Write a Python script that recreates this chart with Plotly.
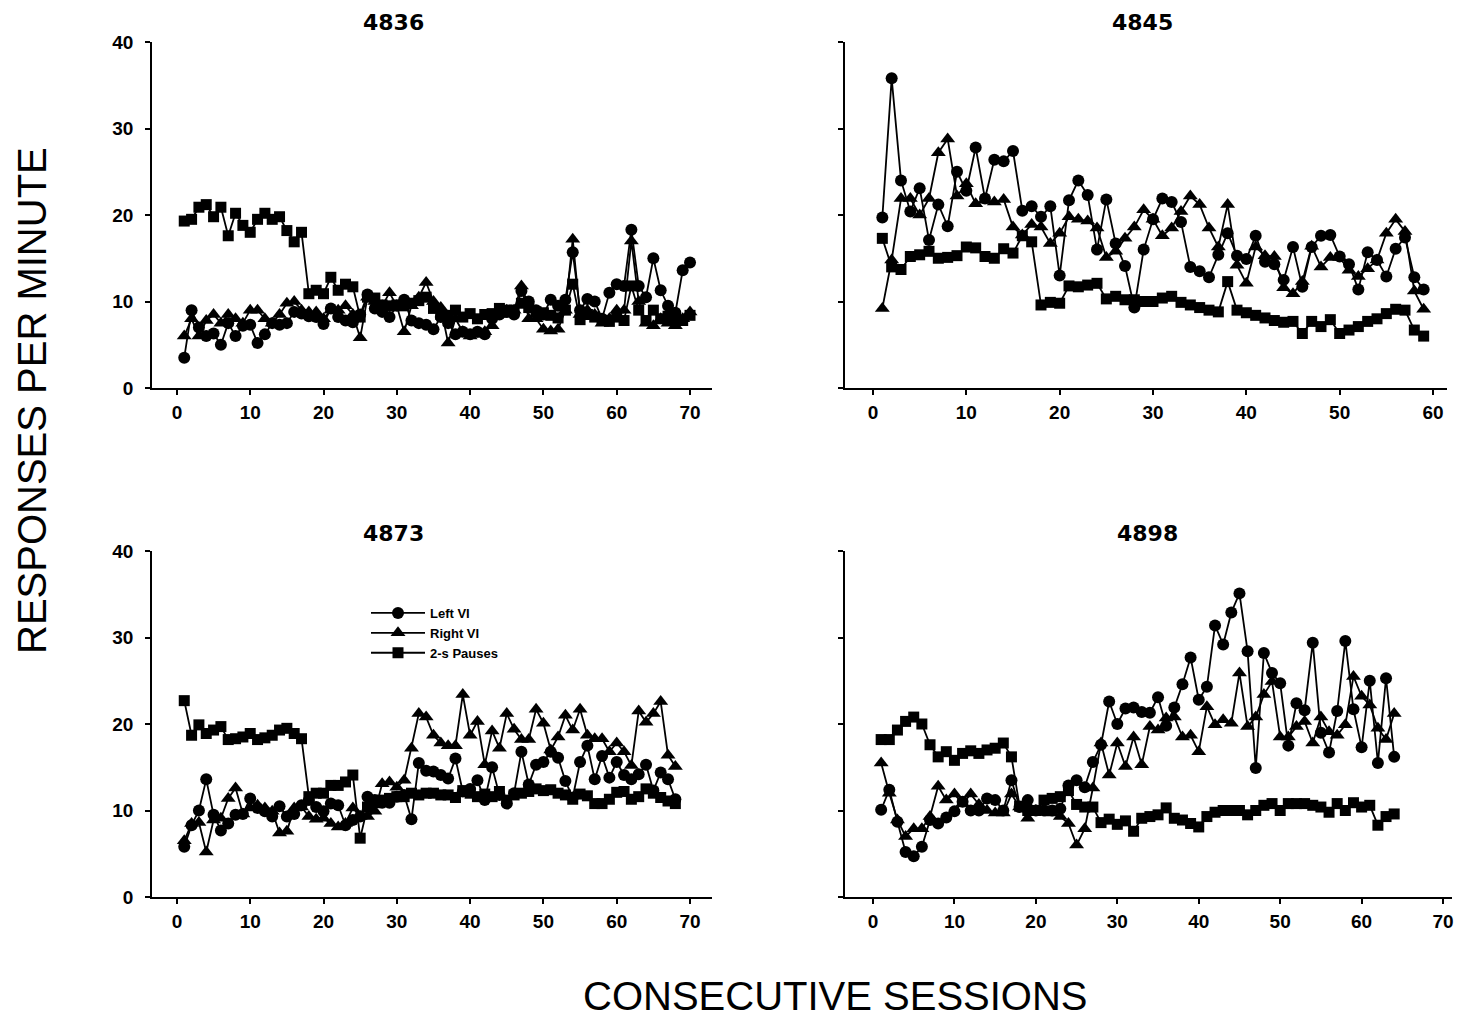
import plotly.graph_objects as go

# ---------------- data ----------------
p1_left = [3.5,9.0,7.0,6.0,6.3,5.0,7.5,6.0,7.2,7.3, 5.2,6.2,7.5,7.3,7.5,8.8,8.6,8.3,8.2,7.4,
           9.2,8.2,7.8,7.6,8.5,10.8,9.2,8.8,8.2,9.5, 10.2,7.8,7.5,7.3,6.8,8.2,7.5,6.2,6.5,6.2,
           6.5,6.2,8.0,8.5,8.8,8.5,11.2,10.0,9.0,8.5, 10.2,9.5,10.2,15.7,9.0,10.3,10.0,8.0,11.0,12.0,
           11.8,18.3,11.8,10.5,15.0,11.3,9.5,8.7,13.6,14.5]
p1_right = [6.0,8.0,6.0,7.8,8.5,7.5,8.5,8.0,7.5,9.0, 9.0,8.0,7.5,8.5,9.8,10.0,9.0,8.8,8.8,8.0,
            9.0,9.0,9.5,8.5,5.8,10.5,10.0,9.5,11.0,9.5, 6.5,9.5,10.5,12.2,10.0,9.3,5.2,8.0,6.5,6.0,
            6.2,6.5,7.2,8.5,9.0,9.0,11.8,8.0,8.0,6.8, 6.6,6.8,9.0,17.2,8.5,9.0,8.5,7.5,8.0,9.0,
            9.0,17.0,10.0,7.5,7.2,8.0,7.5,7.2,8.0,8.8]
p1_pause = [19.3,19.5,20.9,21.2,19.8,20.9,17.6,20.2,18.8,18.0, 19.5,20.2,19.5,19.8,18.2,16.9,18.0,10.9,11.3,10.9,
            12.8,11.3,12.0,11.7,8.2,10.5,10.4,9.6,9.5,9.6, 9.5,9.8,10.1,10.5,9.2,8.5,8.4,9.0,8.2,8.6,
            8.0,8.5,8.6,9.2,9.0,9.0,9.8,9.3,8.8,8.7, 8.4,8.1,9.0,12.0,7.9,8.5,8.2,7.8,7.7,8.2,
            7.8,11.8,9.0,7.8,9.0,8.0,8.3,8.0,7.8,8.4]

p2_left = [19.7,35.8,24.0,20.4,23.1,17.1,21.2,18.7,25.0,22.8, 27.8,21.9,26.4,26.2,27.4,20.5,21.0,19.8,21.0,13.0,
           21.7,24.0,22.3,16.0,21.8,16.7,14.1,9.3,16.0,19.5, 21.9,21.5,19.2,14.0,13.5,12.8,15.4,17.9,15.3,14.9,
           17.6,14.6,14.3,12.5,16.3,11.7,16.3,17.6,17.7,15.2, 14.3,11.4,15.7,14.8,12.9,16.1,17.4,12.8,11.4]
p2_right = [9.2,14.8,21.9,21.9,20.0,21.9,27.2,28.8,22.2,23.6, 21.3,21.7,21.5,21.8,18.6,17.7,18.9,18.6,16.7,17.9,
            19.8,19.5,19.3,18.5,15.1,15.8,17.3,18.6,20.6,19.5, 17.6,18.5,20.4,22.2,21.2,18.5,16.3,21.2,14.2,12.1,
            16.3,15.3,15.2,11.6,10.9,12.3,16.4,14.0,15.1,15.1, 13.6,12.9,13.8,14.8,17.9,19.5,18.1,11.2,9.1]
p2_pause = [17.3,14.0,13.7,15.2,15.4,15.8,15.0,15.1,15.3,16.3, 16.2,15.2,15.0,16.1,15.6,17.6,16.9,9.6,9.9,9.8,
            11.8,11.7,11.9,12.1,10.3,10.6,10.2,10.2,10.0,10.0, 10.4,10.6,9.9,9.6,9.3,9.0,8.8,12.3,9.0,8.7,
            8.4,8.1,7.8,7.6,7.7,6.3,7.7,7.1,7.9,6.3, 6.7,7.1,7.7,8.0,8.6,9.1,9.0,6.7,6.0]

p3_left = [5.8,8.3,10.0,13.6,9.5,7.7,8.5,9.5,9.6,11.4, 10.3,9.9,9.3,10.5,9.3,9.6,10.6,11.2,10.4,9.9,
           10.8,10.6,8.3,8.9,9.3,11.6,11.2,10.9,10.9,11.6, 11.8,9.0,15.5,14.6,14.5,14.1,13.7,16.0,12.2,12.5,
           13.5,11.2,15.0,11.8,10.8,12.0,16.8,13.0,15.3,15.6, 16.8,16.1,13.4,11.5,15.6,17.5,13.6,16.3,13.8,15.6,
           14.1,13.6,14.2,15.3,12.3,14.4,13.6,11.3]
p3_right = [6.5,8.5,8.6,5.2,8.9,9.1,11.4,12.6,9.6,10.3, 10.6,10.3,9.9,7.4,7.6,10.3,10.4,9.3,9.0,9.1,
            8.5,8.1,8.5,10.3,9.3,9.3,9.9,13.1,13.3,12.7, 13.5,17.2,21.2,20.8,18.7,17.8,17.5,17.5,23.4,18.7,
            20.3,15.3,19.2,17.2,21.2,19.4,18.2,18.2,21.7,20.1, 17.0,18.5,21.0,19.3,21.7,18.7,18.3,18.3,16.8,17.8,
            16.8,15.2,21.5,20.2,21.2,22.6,16.4,15.1]
p3_pause = [22.7,18.7,19.9,18.9,19.3,19.7,18.2,18.3,18.5,18.9, 18.2,18.4,18.7,19.3,19.5,18.9,18.3,11.6,12.0,12.0,
            12.9,12.9,13.3,14.1,6.8,10.4,10.9,11.2,11.4,11.6, 11.6,12.0,11.8,12.0,12.0,11.8,11.8,11.5,12.3,12.0,
            11.6,11.9,11.6,12.2,11.2,11.8,12.0,12.2,12.5,12.3, 12.4,12.0,11.8,11.3,11.9,11.7,10.8,10.8,11.3,12.1,
            12.2,11.3,11.6,12.5,12.0,11.5,11.1,10.8]

p4_left = [10.1,12.4,8.7,5.2,4.7,5.8,8.9,8.5,9.2,9.9, 11.0,10.0,10.0,11.4,11.2,10.0,13.5,10.4,11.2,10.0,
           10.0,10.0,10.2,12.9,13.5,12.7,15.6,17.6,22.6,20.0, 21.8,21.9,21.4,21.3,23.1,19.8,21.9,24.6,27.7,22.8,
           24.3,31.4,29.2,32.9,35.1,28.4,14.9,28.2,25.9,24.7, 17.5,22.4,21.6,29.4,19.0,16.7,21.5,29.6,21.7,17.3,
           25.0,15.5,25.3,16.2]
p4_right = [15.5,12.0,8.9,7.0,7.9,7.9,9.3,12.8,11.2,11.9, 10.8,11.9,10.7,10.0,9.7,9.7,11.9,10.4,9.1,10.0,
            9.9,9.7,9.3,8.5,6.0,7.9,12.6,17.8,14.1,17.8, 15.1,18.5,15.3,19.7,19.3,20.7,20.8,18.5,18.7,16.8,
            22.0,19.9,20.5,20.1,25.9,19.7,20.8,23.4,24.9,18.5, 18.5,19.7,20.3,17.8,20.8,19.1,18.7,19.9,25.5,23.2,
            22.2,19.5,18.2,21.2]
p4_pause = [18.2,18.2,19.3,20.3,20.8,20.0,17.6,16.2,16.8,15.8, 16.6,16.9,16.6,17.0,17.2,17.8,16.2,10.5,10.0,10.0,
            11.2,11.4,11.6,12.3,10.7,10.4,10.4,8.6,9.0,8.4, 8.8,7.6,9.1,9.3,9.5,10.3,9.1,8.9,8.5,8.1,
            9.3,9.8,10.0,10.0,10.0,9.5,10.0,10.6,10.8,10.0, 10.8,10.8,10.8,10.6,10.4,9.8,10.8,10.0,10.9,10.4,
            10.6,8.3,9.3,9.6]

panel_titles = ["4836", "4845", "4873", "4898"]
series_names = ["Left VI", "Right VI", "2-s Pauses"]
x_ticks_p1 = [0, 10, 20, 30, 40, 50, 60, 70]
x_ticks_p2 = [0, 10, 20, 30, 40, 50, 60]
y_ticks = [0, 10, 20, 30, 40]

# ---------------- layout geometry ----------------
W, H = 1469, 1021
def px(x): return x / W
def py(y): return 1 - y / H

panels = [
    dict(data=(p1_left, p1_right, p1_pause), xd=[px(152), px(712)], yd=[py(388), py(42)],
         xr=[-3.4, 73.0], xt=x_ticks_p1, ylab=True),
    dict(data=(p2_left, p2_right, p2_pause), xd=[px(845), px(1447)], yd=[py(388), py(42)],
         xr=[-3.0, 61.5], xt=x_ticks_p2, ylab=False),
    dict(data=(p3_left, p3_right, p3_pause), xd=[px(152), px(712)], yd=[py(897), py(551)],
         xr=[-3.4, 73.0], xt=x_ticks_p1, ylab=True),
    dict(data=(p4_left, p4_right, p4_pause), xd=[px(845), px(1452)], yd=[py(897), py(551)],
         xr=[-3.44, 71.1], xt=x_ticks_p1, ylab=False),
]

symbols = ["circle", "triangle-up", "square"]
sizes = [12, 13, 11]

fig = go.Figure()
layout_axes = {}
tickfont = dict(family="Liberation Sans, Arial, sans-serif", size=19, color="black", weight="bold")

for i, p in enumerate(panels):
    n = i + 1
    xa = "x" if n == 1 else f"x{n}"
    ya = "y" if n == 1 else f"y{n}"
    for k, vals in enumerate(p["data"]):
        fig.add_trace(go.Scatter(
            x=list(range(1, len(vals) + 1)), y=vals, xaxis=xa, yaxis=ya,
            mode="lines+markers", name=series_names[k],
            line=dict(color="black", width=1.8),
            marker=dict(symbol=symbols[k], size=sizes[k], color="black"),
            showlegend=(n == 3), legendrank=k + 1,
        ))
    xkey = "xaxis" if n == 1 else f"xaxis{n}"
    ykey = "yaxis" if n == 1 else f"yaxis{n}"
    layout_axes[xkey] = dict(domain=p["xd"], range=p["xr"], anchor=ya, tickvals=p["xt"],
                             showline=True, linecolor="black", linewidth=1.5, ticks="outside",
                             ticklen=5, tickwidth=1.5, tickcolor="black", showgrid=False,
                             zeroline=False, tickfont=tickfont, ticklabelstandoff=1,
                             automargin=False)
    layout_axes[ykey] = dict(domain=p["yd"], range=[0, 40], anchor=xa, tickvals=y_ticks,
                             showline=True, linecolor="black", linewidth=1.5, ticks="outside",
                             ticklen=5, tickwidth=1.5, tickcolor="black", showgrid=False,
                             zeroline=False, tickfont=tickfont, showticklabels=p["ylab"],
                             ticklabelstandoff=8, automargin=False)

title_pos = [(393, 22), (1142, 22), (393, 533), (1147, 533)]
annotations = []
for t, (x, y) in zip(panel_titles, title_pos):
    annotations.append(dict(text=t, x=px(x), y=py(y), xref="paper", yref="paper",
                            showarrow=False, xanchor="center", yanchor="middle",
                            font=dict(family="DejaVu Sans, sans-serif", size=22,
                                      color="black", weight="bold")))
annotations.append(dict(text="RESPONSES PER MINUTE", x=px(32), y=py(401), xref="paper", yref="paper",
                        showarrow=False, textangle=-90, xanchor="center", yanchor="middle",
                        font=dict(family="Liberation Sans, Arial, sans-serif", size=40, color="black")))
annotations.append(dict(text="CONSECUTIVE SESSIONS", x=px(835), y=py(996), xref="paper", yref="paper",
                        showarrow=False, xanchor="center", yanchor="middle",
                        font=dict(family="Liberation Sans, Arial, sans-serif", size=40, color="black")))

fig.update_layout(
    width=W, height=H, margin=dict(l=0, r=0, t=0, b=0, autoexpand=False),
    paper_bgcolor="white", plot_bgcolor="white",
    annotations=annotations,
    legend=dict(x=px(366), y=py(598), xanchor="left", yanchor="top",
                bgcolor="rgba(0,0,0,0)", tracegroupgap=0, itemwidth=54,
                font=dict(family="Liberation Sans, Arial, sans-serif", size=13,
                          color="black", weight="bold")),
    **layout_axes,
)

fig.write_html("out.html", config={"displayModeBar": False},
               post_script="document.body.style.margin='0';document.body.style.overflow='hidden';")
